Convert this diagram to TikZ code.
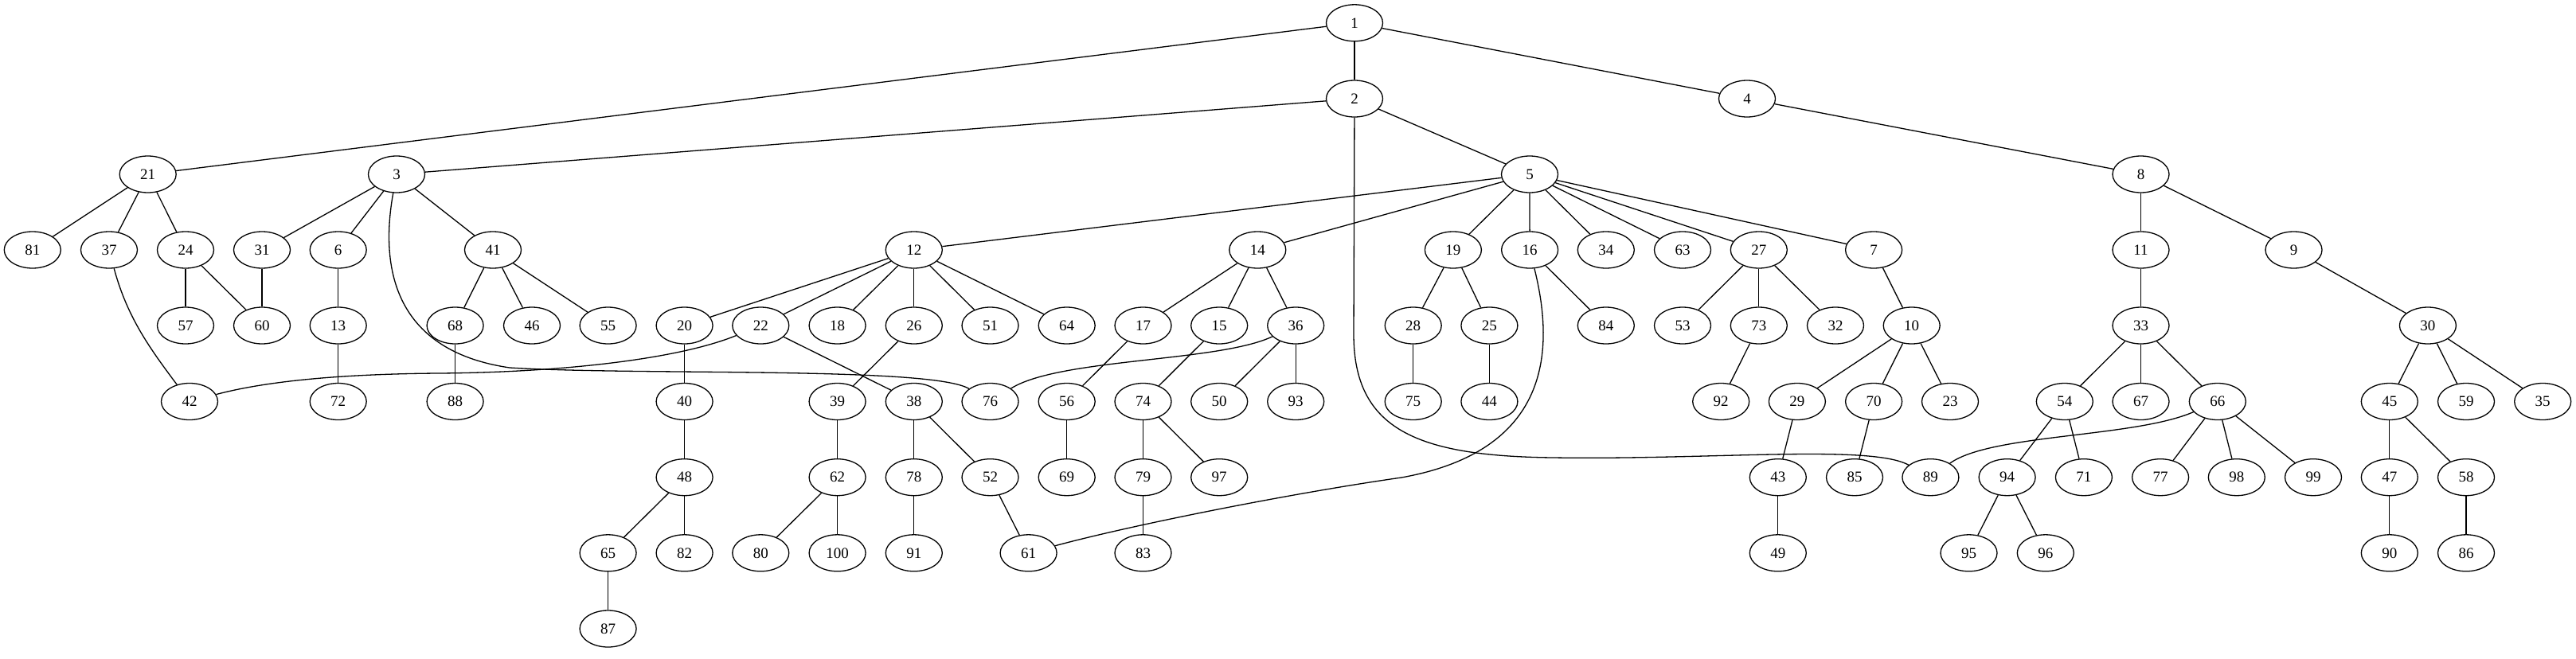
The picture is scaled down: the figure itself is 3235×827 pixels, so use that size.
\documentclass[tikz,border=0pt]{standalone}
\usepackage{fontspec}
\setmainfont{Liberation Serif}
\usetikzlibrary{shapes.geometric}
\begin{document}
\begin{tikzpicture}[x=1pt,y=-1pt,
  vtx/.style={draw,ellipse,line width=1.3pt,minimum width=71pt,minimum height=46pt,inner sep=0pt,font=\fontsize{19}{21}\selectfont},
  edge/.style={line width=1.3pt}]
\useasboundingbox (0,0) rectangle (3235,827);
\foreach \n/\x in {1/1701} \node[vtx] (n\n) at (\x,28.8) {\n};
\foreach \n/\x in {2/1701,4/2194} \node[vtx] (n\n) at (\x,124) {\n};
\foreach \n/\x in {21/185.7,3/498,5/1921,8/2688.5} \node[vtx] (n\n) at (\x,219) {\n};
\foreach \n/\x in {81/40.8,37/137,24/233,31/329,6/424.7,41/619,12/1147.8,14/1579.3,19/1824.9,16/1921.1,34/2016.8,63/2113,27/2208.8,7/2353.1,11/2688.5,9/2880.5} \node[vtx] (n\n) at (\x,314) {\n};
\foreach \n/\x in {57/233,60/329,13/424.7,68/571.6,46/668,55/763.6,20/859.6,22/955.3,18/1051.6,26/1147.8,51/1243.5,64/1339.7,17/1435.5,15/1531.2,36/1627.2,28/1774.7,25/1870.4,84/2016.8,53/2113,73/2208.8,32/2305,10/2400.7,33/2688.5,30/3048.9} \node[vtx] (n\n) at (\x,409) {\n};
\foreach \n/\x in {42/238,72/424.7,88/571.6,40/859.6,39/1051.6,38/1147.8,76/1243.5,56/1339.7,74/1435.5,50/1531.2,93/1627.2,75/1774.7,44/1870.4,92/2161.2,29/2256.9,70/2353.1,23/2449,54/2592.8,67/2688.5,66/2784.8,45/3000.8,59/3097,35/3193.2} \node[vtx] (n\n) at (\x,504.5) {\n};
\foreach \n/\x in {48/859.6,62/1051.6,78/1147.8,52/1243.5,69/1339.7,79/1435.5,97/1531.2,43/2232.8,85/2329,89/2424.4,94/2520.6,71/2616.9,77/2713.1,98/2808.8,99/2905,47/3000.8,58/3097} \node[vtx] (n\n) at (\x,599.7) {\n};
\foreach \n/\x in {65/763.6,82/859.6,80/955.3,100/1051.6,91/1147.8,61/1291.6,83/1435.5,49/2232.8,95/2472.5,96/2568.8,90/3000.8,86/3097} \node[vtx] (n\n) at (\x,694.8) {\n};
\foreach \n/\x in {87/763.6} \node[vtx] (n\n) at (\x,790) {\n};
% straight edges
\foreach \a/\b in {1/21,1/2,1/4,2/3,2/5,4/8,21/81,21/37,21/24,3/31,3/6,3/41,
  5/12,5/14,5/19,5/16,5/34,5/63,5/27,5/7,8/11,8/9,24/57,24/60,31/60,6/13,
  41/68,41/46,41/55,12/20,12/22,12/18,12/26,12/51,12/64,14/17,14/15,14/36,
  19/28,19/25,16/84,27/53,27/73,27/32,7/10,11/33,9/30,13/72,68/88,20/40,
  22/38,26/39,17/56,15/74,36/50,36/93,28/75,25/44,73/92,10/29,10/70,10/23,
  33/54,33/67,33/66,30/45,30/59,30/35,40/48,39/62,38/78,38/52,56/69,74/79,
  74/97,29/43,70/85,54/94,54/71,66/77,66/98,66/99,45/47,45/58,48/65,48/82,
  62/80,62/100,78/91,52/61,79/83,43/49,94/95,94/96,47/90,58/86,65/87}
  \draw[edge] (n\a) -- (n\b);
% curved edges
\coordinate (c2a) at (1700,420);
\coordinate (c2b) at (1950,575);
\draw[edge] (n2) -- (c2a) .. controls (1700,540) and (1780,573) .. (c2b) .. controls (2150,578) and (2350,558) .. (n89);
\coordinate (c16) at (1760,600);
\draw[edge] (n16) .. controls (1950,430) and (1955,565) .. (c16) .. controls (1620,620) and (1420,660) .. (n61);
\coordinate (c3) at (640,462);
\draw[edge] (n3) .. controls (478,330) and (490,440) .. (c3) .. controls (800,472) and (1170,460) .. (n76);
\draw[edge] (n37) .. controls (160,400) and (190,440) .. (n42);
\coordinate (c22) at (550,469);
\draw[edge] (n22) .. controls (850,452) and (700,468) .. (c22) .. controls (420,470) and (330,480) .. (n42);
\draw[edge] (n36) .. controls (1530,455) and (1330,450) .. (n76);
\draw[edge] (n66) .. controls (2680,550) and (2500,545) .. (n89);
\end{tikzpicture}
\end{document}
